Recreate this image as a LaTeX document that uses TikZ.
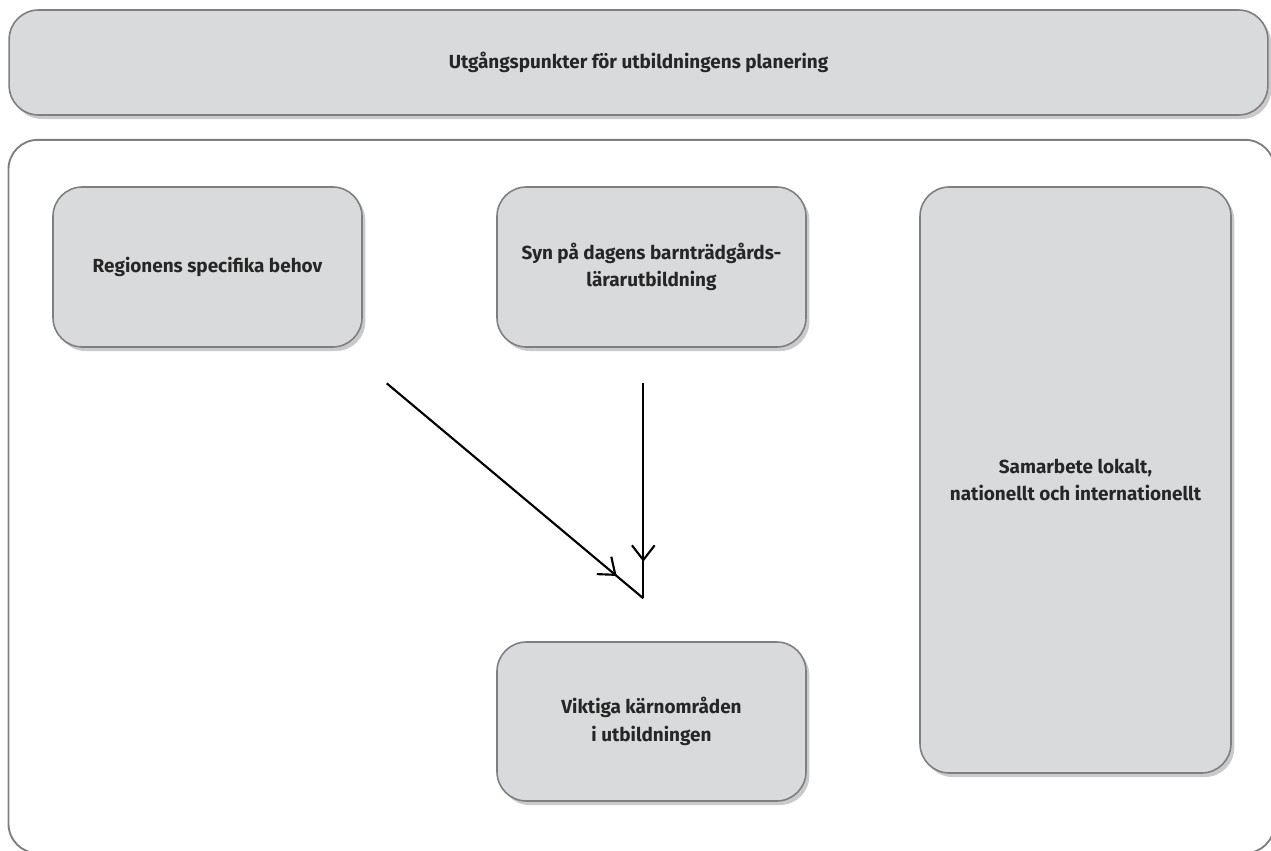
\documentclass[tikz,border=0pt]{standalone}
\usepackage{fontspec}
\setmainfont{Fira Sans}
\usetikzlibrary{shadows,arrows.meta,decorations.markings}
\definecolor{boxfill}{HTML}{D9DADC}
\definecolor{boxline}{HTML}{7F7F82}
\definecolor{txt}{HTML}{262626}
\tikzset{
  px/.style={x=0.75pt,y=-0.75pt},
  card/.style={draw=boxline, line width=1.2pt, fill=boxfill, rounded corners=22pt,
    drop shadow={shadow xshift=2.5pt, shadow yshift=-3pt, opacity=0.35, fill=black!60},
    align=center, text=txt, font=\bfseries\fontsize{14.2}{20.5}\selectfont, inner sep=0pt},
  frame/.style={draw=boxline, line width=1.4pt, rounded corners=22pt, inner sep=0pt},
  flow/.style={line width=1.6pt, black},
}
\begin{document}
\begin{tikzpicture}[px]
\useasboundingbox (0,0) rectangle (1271,850);
\clip (0,0) rectangle (1271,850);
\node[card, minimum width=944pt, minimum height=78.75pt] (top) at (638.5,62.5) {Utgångspunkter för utbildningens planering};
\node[frame, minimum width=949.5pt, minimum height=535pt] (frame) at (641.5,496.5) {};
\node[card, minimum width=231.75pt, minimum height=120pt] (reg) at (207.5,267) {Regionens specifika behov};
\node[card, minimum width=231.75pt, minimum height=120pt] (syn) at (651.5,267) {Syn på dagens barnträdgårds-\\lärarutbildning};
\node[card, minimum width=233.25pt, minimum height=439.5pt] (sam) at (1075.5,480) {Samarbete lokalt,\\nationellt och internationellt};
\node[card, minimum width=231.75pt, minimum height=119.25pt] (vik) at (651.5,721.5) {Viktiga kärnområden\\i utbildningen};
\coordinate (d1) at (386.7,383.3);
\coordinate (v1) at (643.3,383.3);
\coordinate (m) at (643.3,598.3);
\draw[flow, decoration={markings, mark=at position 0.896 with {\arrow{Straight Barb[length=11pt,width=17pt,line width=1.6pt]}}}, postaction=decorate] (d1) -- (m);
\draw[flow, decoration={markings, mark=at position 0.83 with {\arrow{Straight Barb[length=11pt,width=17pt,line width=1.6pt]}}}, postaction=decorate] (v1) -- (m);
\end{tikzpicture}
\end{document}
